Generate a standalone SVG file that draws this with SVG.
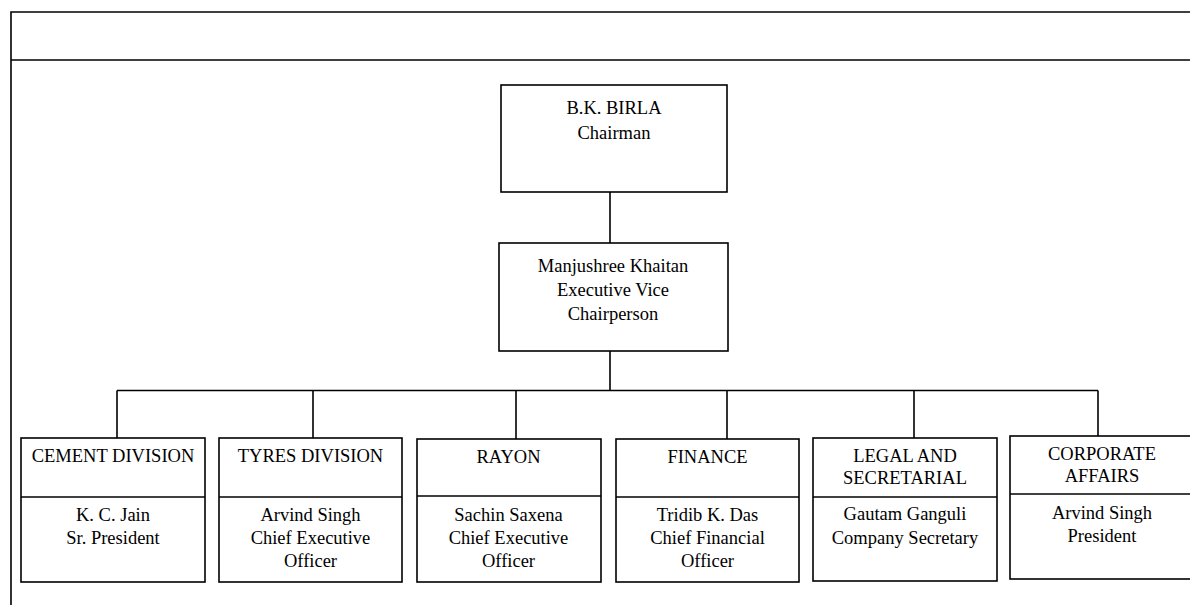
<svg xmlns="http://www.w3.org/2000/svg" width="1190" height="605" viewBox="0 0 1190 605">
<style>
.box{fill:#fff;stroke:#000;stroke-width:1.6}
.ln{stroke:#000;stroke-width:1.6;fill:none}
text{font-family:"Liberation Serif","Times New Roman",serif;font-size:18.5px;fill:#000;text-anchor:middle}
</style>
<rect width="1190" height="605" fill="#fff"/>
<g id="frame">
<path class="ln" d="M11,605 V12 H1192 M11,60 H1192"/>
</g>
<g id="connectors">
<path class="ln" d="M610,192 V243 M610,351 V390.5 M117,390.5 H1098 M117,390.5 V438 M313,390.5 V438 M516,390.5 V439 M727,390.5 V439 M914,390.5 V438 M1098,390.5 V436"/>
</g>
<g id="chairman">
<rect class="box" x="501" y="85" width="226" height="107"/>
<text x="614" y="114">B.K. BIRLA</text>
<text x="614" y="139">Chairman</text>
</g>
<g id="evc">
<rect class="box" x="499" y="243" width="229" height="108"/>
<text x="613" y="272">Manjushree Khaitan</text>
<text x="613" y="296">Executive Vice</text>
<text x="613" y="320">Chairperson</text>
</g>
<g id="cement">
<rect class="box" x="21" y="438" width="184" height="144"/>
<path class="ln" d="M21,497 H205"/>
<text x="113" y="462">CEMENT DIVISION</text>
<text x="113" y="521">K. C. Jain</text>
<text x="113" y="544">Sr. President</text>
</g>
<g id="tyres">
<rect class="box" x="219" y="438" width="183" height="144"/>
<path class="ln" d="M219,497 H402"/>
<text x="310.5" y="462">TYRES DIVISION</text>
<text x="310.5" y="521">Arvind Singh</text>
<text x="310.5" y="544">Chief Executive</text>
<text x="310.5" y="567">Officer</text>
</g>
<g id="rayon">
<rect class="box" x="417" y="439" width="184" height="143"/>
<path class="ln" d="M417,496 H601"/>
<text x="508.5" y="462.5">RAYON</text>
<text x="508.5" y="521">Sachin Saxena</text>
<text x="508.5" y="544">Chief Executive</text>
<text x="508.5" y="567">Officer</text>
</g>
<g id="finance">
<rect class="box" x="616" y="439" width="183" height="143"/>
<path class="ln" d="M616,497 H799"/>
<text x="707.5" y="462.5">FINANCE</text>
<text x="707.5" y="521">Tridib K. Das</text>
<text x="707.5" y="544">Chief Financial</text>
<text x="707.5" y="567">Officer</text>
</g>
<g id="legal">
<rect class="box" x="813" y="438" width="184" height="143"/>
<path class="ln" d="M813,497 H997"/>
<text x="905" y="461.5">LEGAL AND</text>
<text x="905" y="484">SECRETARIAL</text>
<text x="905" y="519.5">Gautam Ganguli</text>
<text x="905" y="544">Company Secretary</text>
</g>
<g id="corporate">
<rect class="box" x="1010" y="436" width="184" height="143"/>
<path class="ln" d="M1010,494 H1194"/>
<text x="1102" y="460">CORPORATE</text>
<text x="1102" y="482">AFFAIRS</text>
<text x="1102" y="518.5">Arvind Singh</text>
<text x="1102" y="542">President</text>
</g>
</svg>
